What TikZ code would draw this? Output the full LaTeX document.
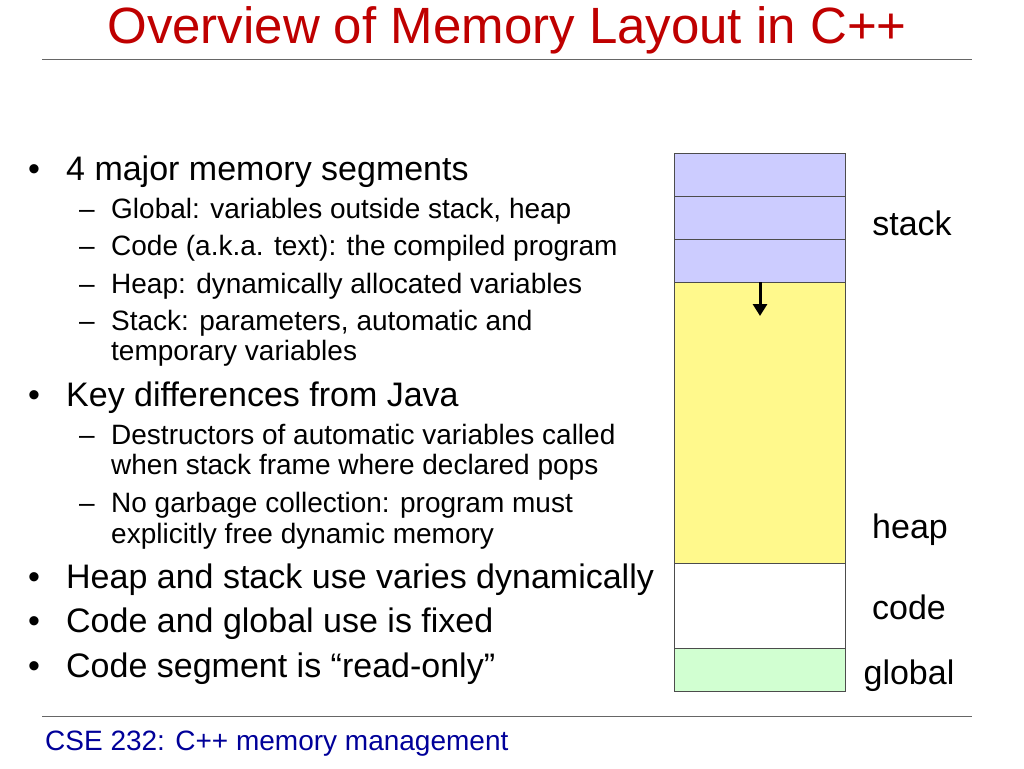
\documentclass[tikz,border=0pt]{standalone}
\usepackage{fontspec}
\usetikzlibrary{arrows.meta}
\setmainfont{Liberation Sans}
\begin{document}
\begin{tikzpicture}[x=1pt,y=-1pt,
  big/.style={anchor=base west,inner sep=0pt,font=\fontsize{34}{38}\selectfont},
  small/.style={anchor=base west,inner sep=0pt,font=\fontsize{28}{32}\selectfont},
  lab/.style={anchor=center,inner sep=0pt,font=\fontsize{34}{38}\selectfont},
  seg/.style={draw=black!70,line width=0.8pt}]
\useasboundingbox (0,0) rectangle (1024,768);
\node[anchor=center,inner sep=0pt,text=red!75!black,font=\fontsize{51}{56}\selectfont] (title) at (507,30) {Overview of Memory Layout in C++};
\draw[black!60,line width=0.8pt] (42,59) -- (972,59);
\draw[black!60,line width=0.8pt] (42,716) -- (972,716);
\node[anchor=base west,inner sep=0pt,text=blue!60!black,font=\fontsize{28}{32}\selectfont] (foot) at (45,750) {CSE 232: C++ memory management};
% bullets
\foreach \y/\t [count=\i] in {180/{4 major memory segments},406/{Key differences from Java},588/{Heap and stack use varies dynamically},632/{Code and global use is fixed},677/{Code segment is “read-only”}}{
  \node[big] (b\i) at (28,\y) {•};
  \node[big] (t\i) at (66,\y) {\t};
}
\foreach \y/\t [count=\i] in {218/{Global: variables outside stack, heap},255/{Code (a.k.a. text): the compiled program},293/{Heap: dynamically allocated variables},330/{Stack: parameters, automatic and},444/{Destructors of automatic variables called},512/{No garbage collection: program must}}{
  \node[small] (d\i) at (79,\y) {–};
  \node[small] (s\i) at (111,\y) {\t};
}
\node[small] (c1) at (111,360) {temporary variables};
\node[small] (c2) at (111,474) {when stack frame where declared pops};
\node[small] (c3) at (111,543) {explicitly free dynamic memory};
% memory column
\fill[blue!20] (674,153) rectangle (845,282);
\fill[yellow!45] (674,282) rectangle (845,563);
\fill[green!18] (674,648) rectangle (845,691);
\draw[seg] (674,153) rectangle (845,691);
\foreach \y in {196,239,282,563,648} \draw[seg] (674,\y) -- (845,\y);
\coordinate (a1) at (760,282);
\coordinate (a2) at (760,316);
\draw[line width=3pt,-{Triangle[length=12pt,width=14pt]}] (a1) -- (a2);
\node[lab] (stack) at (912,223) {stack};
\node[lab] (heap) at (910,530) {heap};
\node[lab] (code) at (909,607) {code};
\node[lab] (global) at (909,676) {global};
\end{tikzpicture}
\end{document}
